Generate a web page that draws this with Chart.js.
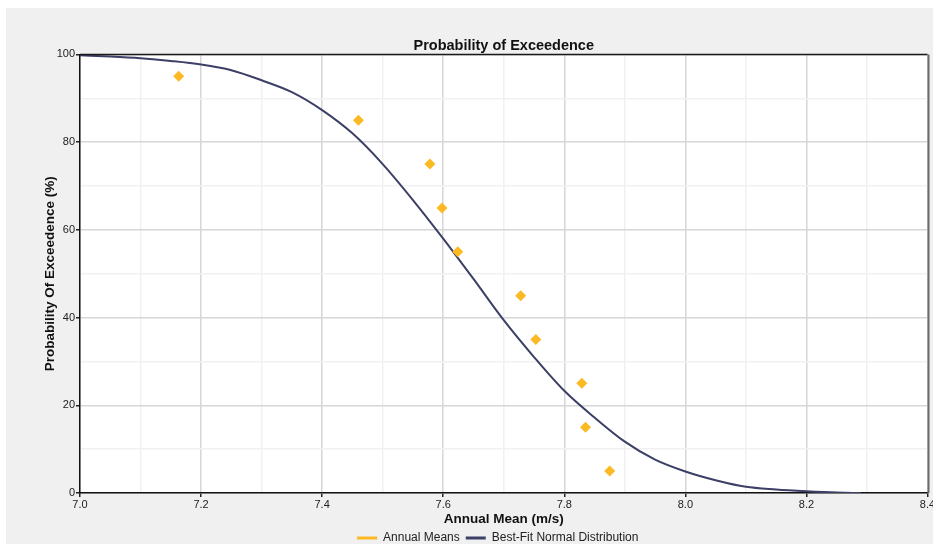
<!DOCTYPE html>
<html>
<head>
<meta charset="utf-8">
<script src="https://cdn.jsdelivr.net/npm/chart.js@4.4.1/dist/chart.umd.min.js"></script>
<style>
  html, body { margin: 0; padding: 0; background: #ffffff; }
  #wrap { width: 933px; height: 544px; overflow: hidden; }
  canvas { display: block; }
</style>
</head>
<body>
<div id="wrap"><canvas id="c" width="933" height="544"></canvas></div>
<script>
// ---- Data ----
const chartTitle = "Probability of Exceedence";
const xAxisTitle = "Annual Mean (m/s)";
const yAxisTitle = "Probability Of Exceedence (%)";
const seriesNames = ["Annual Means", "Best-Fit Normal Distribution"];

// Annual means (scatter, diamonds)
const meanX = [7.163, 7.460, 7.578, 7.598, 7.624, 7.728, 7.753, 7.829, 7.835, 7.875];
const meanY = [95, 85, 75, 65, 55, 45, 35, 25, 15, 5];

// Best-fit normal distribution curve
const fitX = [7.00, 7.05, 7.10, 7.15, 7.20, 7.25, 7.30, 7.35, 7.40, 7.45, 7.50, 7.55, 7.60, 7.65,
              7.70, 7.75, 7.80, 7.85, 7.90, 7.95, 8.00, 8.05, 8.10, 8.15, 8.20, 8.25, 8.29];
const fitY = [99.8, 99.5, 99.1, 98.5, 97.7, 96.4, 94.1, 91.4, 87.3, 82.0, 75.0, 66.8, 58.0, 48.8,
              39.4, 31.0, 23.3, 17.2, 11.7, 7.6, 4.9, 2.9, 1.4, 0.8, 0.4, 0.1, 0.0];

// Axis ranges / ticks
const xMin = 7.0, xMax = 8.4, xStep = 0.1, xLabelEvery = 0.2;
const yMin = 0, yMax = 100, yStep = 10, yLabelEvery = 20;

// ---- Build chart ----
const colMeans = "#FBB924";
const colFit = "#3C3F66";
const fontFam = "'Liberation Sans', Arial, sans-serif";

const isMajor = (v, every) => {
  const r = v / every;
  return Math.abs(r - Math.round(r)) < 1e-6;
};

const bgPlugin = {
  id: 'bg',
  afterLayout(chart) {
    const lg = chart.legend;
    if (lg) {
      lg.left -= 6;
      lg.right -= 6;
      lg.top -= 1;
      lg.bottom = chart.height;
      lg.height = lg.bottom - lg.top;
    }
  },
  beforeDraw(chart) {
    const ctx = chart.ctx;
    const {left, top, right, bottom} = chart.chartArea;
    ctx.save();
    ctx.fillStyle = '#ffffff';
    ctx.fillRect(0, 0, chart.width, chart.height);
    ctx.fillStyle = '#F0F0F0';
    ctx.fillRect(6, 8, chart.width - 6, chart.height - 8);
    ctx.fillStyle = '#ffffff';
    ctx.fillRect(left, top, right - left, bottom - top);
    ctx.restore();
  },
  afterDraw(chart) {
    const ctx = chart.ctx;
    const {left, top, right, bottom} = chart.chartArea;
    ctx.save();
    ctx.strokeStyle = '#1a1a1a';
    ctx.lineWidth = 1.5;
    ctx.beginPath();
    ctx.moveTo(left, top);
    ctx.lineTo(right, top);
    ctx.stroke();
    ctx.strokeStyle = '#6a6a6a';
    ctx.lineWidth = 2;
    ctx.beginPath();
    ctx.moveTo(right + 1, top);
    ctx.lineTo(right + 1, bottom);
    ctx.stroke();
    ctx.restore();
  }
};

new Chart(document.getElementById('c'), {
  type: 'scatter',
  data: {
    datasets: [
      {
        label: seriesNames[0],
        data: meanX.map((x, i) => ({x: x, y: meanY[i]})),
        pointStyle: 'rectRot',
        pointRadius: 5.5,
        pointHoverRadius: 5.5,
        backgroundColor: colMeans,
        borderColor: colMeans,
        borderWidth: 0,
        showLine: false
      },
      {
        label: seriesNames[1],
        data: fitX.map((x, i) => ({x: x, y: fitY[i]})),
        showLine: true,
        pointRadius: 0,
        borderColor: colFit,
        backgroundColor: colFit,
        borderWidth: 2,
        cubicInterpolationMode: 'monotone'
      }
    ]
  },
  options: {
    responsive: false,
    animation: false,
    events: [],
    layout: { padding: { left: 0, right: 3, top: 0, bottom: 5 } },
    plugins: {
      tooltip: { enabled: false },
      title: {
        display: true,
        text: chartTitle,
        fullSize: false,
        color: '#111',
        font: { family: fontFam, size: 14.5, weight: 'bold' },
        padding: { top: 37, bottom: 0 }
      },
      legend: {
        display: true,
        position: 'bottom',
        fullSize: false,
        maxHeight: 12,
        labels: {
          boxWidth: 20,
          boxHeight: 3,
          padding: 6,
          color: '#222',
          font: { family: fontFam, size: 12 },
          generateLabels(chart) {
            return chart.data.datasets.map((ds, i) => ({
              text: ds.label,
              fillStyle: ds.borderColor,
              strokeStyle: ds.borderColor,
              lineWidth: 0,
              hidden: false,
              datasetIndex: i,
              fontColor: '#222'
            }));
          }
        }
      }
    },
    scales: {
      x: {
        type: 'linear',
        min: xMin,
        max: xMax,
        afterFit(scale) {
          scale.height = 34;
          scale.paddingLeft = 0;
          scale.paddingRight = 0;
        },
        ticks: {
          stepSize: xStep,
          autoSkip: false,
          maxRotation: 0,
          padding: 1,
          color: '#222',
          font: { family: fontFam, size: 11 },
          callback: (v) => isMajor(v, xLabelEvery) ? Number(v).toFixed(1) : ''
        },
        grid: {
          color: (c) => (c.tick && isMajor(c.tick.value, xLabelEvery)) ? '#D6D6D6' : '#F1F1F1',
          tickColor: (c) => (c.tick && isMajor(c.tick.value, xLabelEvery)) ? '#222' : 'rgba(0,0,0,0)',
          tickLength: 4,
          lineWidth: 1.5
        },
        border: { color: '#111', width: 1.5 },
        title: {
          display: true,
          text: xAxisTitle,
          color: '#111',
          font: { family: fontFam, size: 13.5, weight: 'bold' },
          padding: { top: 0, bottom: 0 }
        }
      },
      y: {
        type: 'linear',
        min: yMin,
        max: yMax,
        afterFit(scale) {
          scale.width = 80;
          scale.paddingTop = 0;
          scale.paddingBottom = 0;
        },
        ticks: {
          stepSize: yStep,
          autoSkip: false,
          padding: 1,
          color: '#222',
          font: { family: fontFam, size: 11 },
          callback: (v) => isMajor(v, yLabelEvery) ? String(v) : ''
        },
        grid: {
          color: (c) => (c.tick && isMajor(c.tick.value, yLabelEvery)) ? '#D6D6D6' : '#F1F1F1',
          tickColor: (c) => (c.tick && isMajor(c.tick.value, yLabelEvery)) ? '#222' : 'rgba(0,0,0,0)',
          tickLength: 4,
          lineWidth: 1.5
        },
        border: { color: '#111', width: 1.5 },
        title: {
          display: true,
          text: yAxisTitle,
          color: '#111',
          font: { family: fontFam, size: 13.5, weight: 'bold' },
          padding: { top: 42, bottom: 0 }
        }
      }
    }
  },
  plugins: [bgPlugin]
});
</script>
</body>
</html>
